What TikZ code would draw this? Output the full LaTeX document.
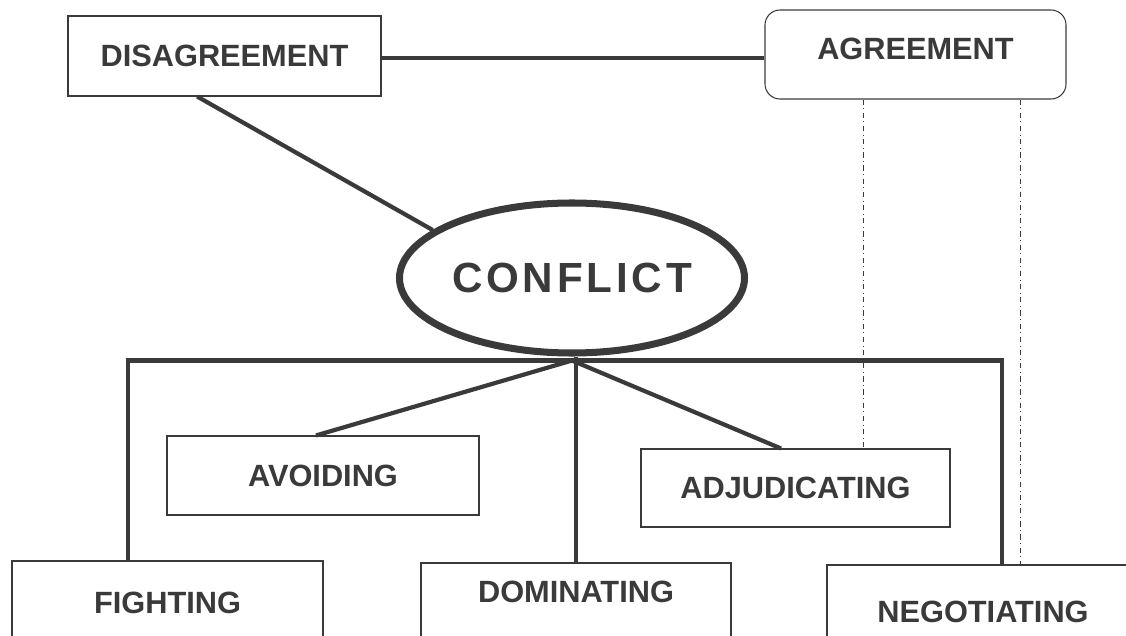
\documentclass[tikz,border=0pt]{standalone}
\usepackage{fontspec}
\setmainfont{Liberation Sans}
\usetikzlibrary{positioning,shapes.geometric}

\definecolor{ink}{HTML}{3A3A3A}

\tikzstyle{block} = [rectangle, draw=ink, line width=0.6pt, text=ink, font=\fontsize{17.5}{21}\selectfont\bfseries, minimum width=6.24cm, minimum height=1.58cm, inner sep=0pt]
\tikzstyle{bubble} = [ellipse, draw=ink, line width=4pt, text=ink, font=\fontsize{24}{28}\selectfont\bfseries\addfontfeature{LetterSpace=9}, minimum width=6.9cm, minimum height=3cm, inner sep=0pt]
\tikzstyle{line} = [draw=ink, line width=2.4pt]
\tikzstyle{guide} = [draw=ink, line width=0.5pt, dash dot]

\begin{document}
\begin{tikzpicture}[node distance=1cm, auto]
    \useasboundingbox (-11.44,5.56) rectangle (11.08,-7.14);
    \clip (-11.44,5.56) rectangle (11.08,-7.14);

    \node[bubble] (conflict) at (0,0) {CONFLICT};
    \node[block, above of=conflict, xshift=-6.95cm, node distance=4.44cm, minimum width=6.26cm, minimum height=1.6cm] (disagreement) {DISAGREEMENT};
    \node[block, above of=conflict, xshift=6.87cm, node distance=4.47cm, minimum width=6.02cm, minimum height=1.78cm, rounded corners=0.3cm, text depth=0.24cm] (agreement) {AGREEMENT};

    \node[block, below of=conflict, xshift=-4.98cm, node distance=3.95cm] (avoiding) {AVOIDING};
    \node[block, below of=conflict, xshift=4.47cm, node distance=4.2cm, minimum width=6.18cm, minimum height=1.56cm] (adjudicating) {ADJUDICATING};
    \node[block, below of=conflict, xshift=-8.09cm, node distance=6.5cm, minimum width=6.22cm, minimum height=1.68cm] (fighting) {FIGHTING};
    \node[block, below of=conflict, xshift=0.08cm, node distance=6.7cm, minimum width=6.2cm, minimum height=2cm, text depth=0.84cm] (dominating) {DOMINATING};
    \node[block, below of=conflict, xshift=8.22cm, node distance=6.68cm, minimum height=1.88cm] (negotiating) {NEGOTIATING};

    % lines
    \draw [line] ([yshift=-0.04cm]disagreement.east) to ([yshift=-0.04cm]disagreement.east -| agreement.west);
    \draw [line] (disagreement.236) to (conflict.161);
    \draw [line] ([xshift=-0.79cm]fighting.north) |- ([yshift=-0.08cm]conflict.south) -| ([xshift=0.38cm]negotiating.north);
    \draw [line] (dominating.north |- conflict.south) to (dominating.north);
    \draw [line] ([yshift=-0.08cm]conflict.south) to ([xshift=-0.14cm]avoiding.north);
    \draw [line] ([yshift=-0.08cm]conflict.south) to ([xshift=-0.29cm]adjudicating.north);

    % dash-dot guides
    \draw [guide] ([xshift=-1.05cm]agreement.south) to ([xshift=-1.05cm]agreement.south |- adjudicating.north);
    \draw [guide] ([xshift=2.09cm]agreement.south) to ([xshift=2.09cm]agreement.south |- negotiating.north);
\end{tikzpicture}
\end{document}
